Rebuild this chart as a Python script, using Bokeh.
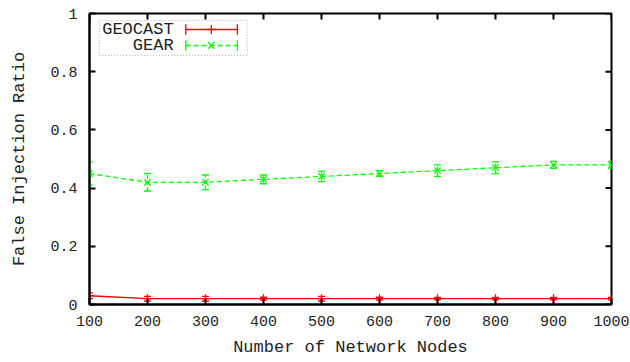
import math

from bokeh.plotting import figure
from bokeh.models import (Range1d, FixedTicker, ColumnDataSource, BoxAnnotation, Label)
from bokeh.embed import file_html
from bokeh.resources import INLINE

# Number of network nodes
nodes = [100, 200, 300, 400, 500, 600, 700, 800, 900, 1000]

# False injection ratio per scheme, with error half-widths
geocast = [0.03, 0.02, 0.02, 0.02, 0.02, 0.02, 0.02, 0.02, 0.02, 0.02]
geocast_err = [0.01, 0.008, 0.008, 0.005, 0.008, 0.005, 0.004, 0.004, 0.004, 0.004]
gear = [0.45, 0.42, 0.42, 0.43, 0.44, 0.45, 0.46, 0.47, 0.48, 0.48]
gear_err = [0.04, 0.03, 0.025, 0.015, 0.018, 0.01, 0.02, 0.02, 0.012, 0.012]

x_ticks = [100, 200, 300, 400, 500, 600, 700, 800, 900, 1000]
y_ticks = [0, 0.2, 0.4, 0.6, 0.8, 1]
y_tick_labels = ["0", "0.2", "0.4", "0.6", "0.8", "1"]

FONT = "Liberation Mono"
RED = "#ff0000"
GREEN = "#00ff00"
LW = 1.3

x_lo, x_hi = x_ticks[0], x_ticks[-1]
y_lo, y_hi = y_ticks[0], y_ticks[-1]

p = figure(width=630, height=362, output_backend="svg", toolbar_location=None,
           x_range=Range1d(x_lo, x_hi), y_range=Range1d(y_lo, y_hi),
           min_border_left=89, min_border_right=19, min_border_top=13,
           min_border_bottom=58)
p.background_fill_color = "white"
p.border_fill_color = "white"
p.outline_line_color = "black"
p.outline_line_width = 2
p.xgrid.visible = False
p.ygrid.visible = False

bottom_ax = p.below[0]
left_ax = p.left[0]
bottom_ax.ticker = FixedTicker(ticks=x_ticks)
left_ax.ticker = FixedTicker(ticks=y_ticks)
left_ax.major_label_overrides = {t: l for t, l in zip(y_ticks, y_tick_labels)}

for ax in (bottom_ax, left_ax):
    ax.axis_line_color = "black"
    ax.axis_line_width = 2
    ax.major_tick_in = 6
    ax.major_tick_out = 0
    ax.major_tick_line_width = 2
    ax.minor_tick_line_color = None
    ax.major_label_text_font = FONT
    ax.major_label_text_font_size = "15px"
    ax.major_label_text_color = "#222222"
    ax.axis_label_text_font = FONT
    ax.axis_label_text_font_size = "17px"
    ax.axis_label_text_font_style = "normal"
    ax.axis_label_text_color = "#222222"

bottom_ax.major_label_standoff = 11
left_ax.major_label_standoff = 12
bottom_ax.axis_label_standoff = 9
left_ax.axis_label_standoff = 18
bottom_ax.axis_label = "Number of Network Nodes"
left_ax.axis_label = "False Injection Ratio"

# mirrored tick marks on the top and right edges (clipped to the frame,
# so only the inner half of each dash shows)
p.scatter(x=x_ticks, y=[y_hi] * len(x_ticks), marker="dash", size=12,
          angle=math.pi / 2, line_color="black", line_width=2)
p.scatter(x=[x_hi] * len(y_ticks), y=y_ticks, marker="dash", size=12,
          line_color="black", line_width=2)


def series(values, errs, color, dash, marker, msize):
    src = ColumnDataSource(dict(
        x=nodes, y=values,
        lo=[v - e for v, e in zip(values, errs)],
        hi=[v + e for v, e in zip(values, errs)]))
    p.line("x", "y", source=src, color=color, line_width=LW, line_dash=dash)
    # error bars with end caps
    p.segment(x0="x", y0="lo", x1="x", y1="hi", source=src, line_color=color,
              line_width=LW, line_dash="4 2" if dash != "solid" else "solid")
    p.scatter("x", "lo", source=src, marker="dash", size=7, line_color=color,
              line_width=LW)
    p.scatter("x", "hi", source=src, marker="dash", size=7, line_color=color,
              line_width=LW)
    p.scatter("x", "y", source=src, marker=marker, size=msize,
              line_color=color, line_width=LW)


series(geocast, geocast_err, RED, "solid", "cross", 9)
series(gear, gear_err, GREEN, "5 3", "x", 9)

# key box in the upper-left corner (label first, then sample)
p.add_layout(BoxAnnotation(left=117, right=372, top=0.976, bottom=0.856,
                           fill_color=None, line_color="black",
                           line_width=1, line_dash="1 2"))
rows = [("GEOCAST", 0.945, RED, "solid", "cross"),
        ("GEAR", 0.89, GREEN, "5 3", "x")]
for name, yy, col, dash, mk in rows:
    p.add_layout(Label(x=245, y=yy, text=name, text_align="right",
                       text_baseline="middle", text_font=FONT,
                       text_font_size="17px", text_color="#222222"))
    p.segment(x0=[266], y0=[yy], x1=[355], y1=[yy], line_color=col,
              line_width=LW, line_dash=dash)
    p.segment(x0=[266, 355], y0=[yy - 0.018, yy - 0.018],
              x1=[266, 355], y1=[yy + 0.018, yy + 0.018],
              line_color=col, line_width=LW)
    p.scatter(x=[310], y=[yy], marker=mk, size=9, line_color=col,
              line_width=LW)

open("out.html", "w").write(file_html(p, INLINE))
